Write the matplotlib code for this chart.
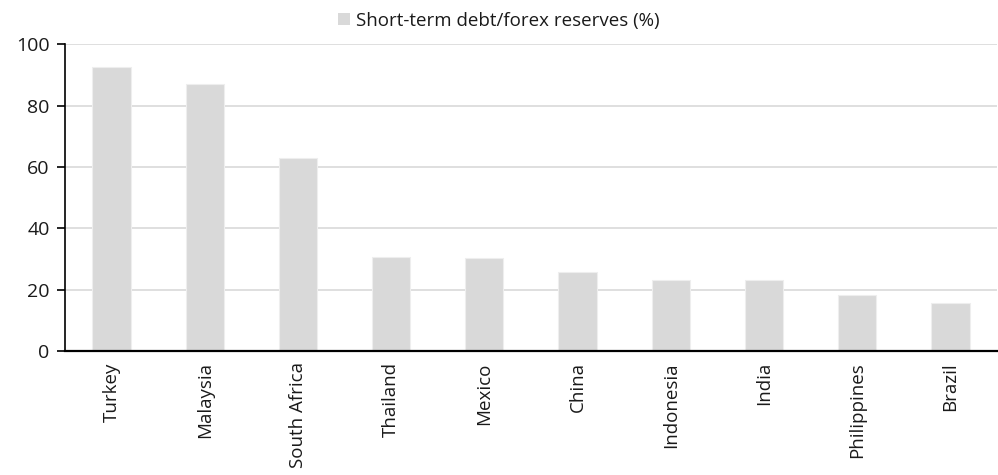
import numpy as np
import matplotlib.pyplot as plt
from matplotlib.patches import Patch

plt.rcParams['font.family'] = ['Open Sans', 'DejaVu Sans']

# short-term external debt as a share of FX reserves
countries = ['Turkey', 'Malaysia', 'South Africa', 'Thailand', 'Mexico',
             'China', 'Indonesia', 'India', 'Philippines', 'Brazil']
debt_to_reserves = [92.6, 87.1, 63.0, 30.8, 30.3, 25.7, 23.3, 23.3, 18.1, 15.6]
series_name = 'Short-term debt/forex reserves (%)'
yticks = [0, 20, 40, 60, 80, 100]

bar_color = '#d9d9d9'
grid_color = '#d9d9d9'
text_color = '#1a1a1a'

fig = plt.figure(figsize=(9.98, 4.75), dpi=100)
ax = fig.add_axes([0.065, 0.261, 0.934, 0.646])

x = np.arange(len(countries))
ax.bar(x, debt_to_reserves, width=0.41, color=bar_color,
       edgecolor='#eeeeee', linewidth=0.8, zorder=2)

ax.set_xlim(-0.5, len(countries) - 0.5)
ax.set_ylim(0, 100)
ax.set_yticks(yticks)
ax.yaxis.grid(True, color=grid_color, linewidth=1.2, zorder=0)
ax.set_axisbelow(True)

ax.set_xticks(x)
ax.set_xticklabels(countries, rotation=90, fontsize=13.5, color=text_color)
ax.tick_params(axis='x', length=0, pad=8)
ax.tick_params(axis='y', length=6, width=1.2, direction='out',
               labelsize=14, labelcolor=text_color, pad=5)

for side in ['top', 'right']:
    ax.spines[side].set_visible(False)
ax.spines['left'].set_linewidth(1.2)
ax.spines['bottom'].set_linewidth(1.6)

handle = Patch(facecolor=bar_color, edgecolor='none')
fig.legend([handle], [series_name], loc='center', bbox_to_anchor=(0.5, 0.956),
           frameon=False, fontsize=13.5, handlelength=0.6, handleheight=0.6,
           handletextpad=0.35, labelcolor=text_color)

fig.savefig('out.png', dpi=100)
